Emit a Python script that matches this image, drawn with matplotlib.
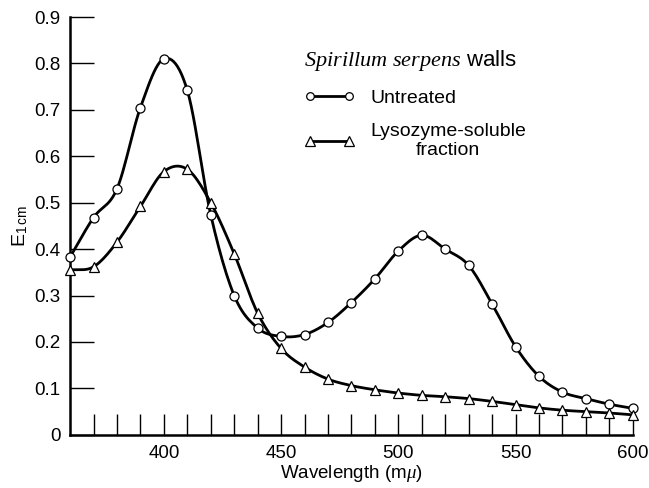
import numpy as np
import matplotlib
matplotlib.use("Agg")
import matplotlib.pyplot as plt

# ---- data ----
wavelength = [360, 370, 380, 390, 400, 410, 420, 430, 440, 450, 460, 470, 480,
              490, 500, 510, 520, 530, 540, 550, 560, 570, 580, 590, 600]
untreated = [0.383, 0.468, 0.530, 0.705, 0.810, 0.742, 0.474, 0.300, 0.230, 0.212,
             0.216, 0.242, 0.285, 0.336, 0.396, 0.430, 0.400, 0.365, 0.282, 0.190,
             0.126, 0.092, 0.078, 0.066, 0.057]
lysozyme = [0.355, 0.362, 0.415, 0.492, 0.567, 0.572, 0.500, 0.390, 0.262, 0.186,
            0.146, 0.120, 0.106, 0.097, 0.090, 0.085, 0.082, 0.078, 0.072, 0.065,
            0.058, 0.053, 0.050, 0.047, 0.043]

x_ticks = [400, 450, 500, 550, 600]
y_ticks = [0, 0.1, 0.2, 0.3, 0.4, 0.5, 0.6, 0.7, 0.8, 0.9]
y_tick_labels = ["0", "0.1", "0.2", "0.3", "0.4", "0.5", "0.6", "0.7", "0.8", "0.9"]

plt.rcParams["font.family"] = "Liberation Sans"
plt.rcParams["mathtext.fontset"] = "custom"
plt.rcParams["mathtext.rm"] = "Liberation Sans"
plt.rcParams["mathtext.it"] = "Liberation Serif:italic"


# smooth line through the measured points (drawing only, markers stay on data)
def smooth(x, y, n=12):
    x = np.asarray(x, float)
    y = np.asarray(y, float)
    xp = np.concatenate([[2 * x[0] - x[1]], x, [2 * x[-1] - x[-2]]])
    yp = np.concatenate([[2 * y[0] - y[1]], y, [2 * y[-1] - y[-2]]])
    xs, ys = [], []
    t = np.linspace(0, 1, n, endpoint=False)
    for i in range(1, len(xp) - 2):
        for arr, out in ((xp, xs), (yp, ys)):
            p0, p1, p2, p3 = arr[i - 1:i + 3]
            out.extend(0.5 * (2 * p1 + (-p0 + p2) * t + (2 * p0 - 5 * p1 + 4 * p2 - p3) * t ** 2
                              + (-p0 + 3 * p1 - 3 * p2 + p3) * t ** 3))
    xs.append(x[-1])
    ys.append(y[-1])
    return xs, ys


fig = plt.figure(figsize=(6.49, 4.88), dpi=100)
ax = fig.add_axes([0.108, 0.109, 0.867, 0.856])

for vals, mk, ms in ((untreated, "o", 6.5), (lysozyme, "^", 7.5)):
    sx, sy = smooth(wavelength, vals)
    ax.plot(sx, sy, color="black", lw=2.0, zorder=2)
    ax.plot(wavelength, vals, ls="none", marker=mk, ms=ms, mfc="white",
            mec="black", mew=0.9, zorder=3, clip_on=False)

ax.set_xlim(360, 600)
ax.set_ylim(0, 0.9)
ax.set_xticks(np.arange(370, 601, 10), minor=False)
ax.set_xticklabels([str(v) if v in x_ticks else "" for v in range(370, 601, 10)])
ax.set_yticks(y_ticks)
ax.set_yticklabels(y_tick_labels)
ax.tick_params(axis="x", direction="in", length=15, width=1, pad=7, labelsize=13.5)
ax.tick_params(axis="y", direction="in", length=17, width=1, pad=7, labelsize=13.5)

for s in ("top", "right"):
    ax.spines[s].set_visible(False)
for s in ("left", "bottom"):
    ax.spines[s].set_linewidth(1.8)

ax.set_xlabel(r"Wavelength (m$\mu$)", fontsize=13.5, labelpad=1)
ax.set_ylabel(r"E$_{\rm 1\,cm}$", fontsize=14, labelpad=3)

h1, = ax.plot([], [], color="black", lw=2.0, marker="o", ms=5.5, mfc="white", mec="black", mew=0.9)
h2, = ax.plot([], [], color="black", lw=2.0, marker="^", ms=6.5, mfc="white", mec="black", mew=0.9)
leg = ax.legend([h1, h2], ["Untreated", "Lysozyme-soluble\nfraction"],
                title=r"$Spirillum\ serpens$ walls", title_fontsize=16, fontsize=14,
                frameon=False, numpoints=2, handlelength=2.6, handletextpad=0.8,
                loc="upper left", bbox_to_anchor=(0.385, 0.968), labelspacing=0.8)
leg._legend_box.align = "left"
leg._legend_box.sep = 12
leg.get_texts()[1].set_multialignment("center")

fig.savefig("out.png", dpi=100)
